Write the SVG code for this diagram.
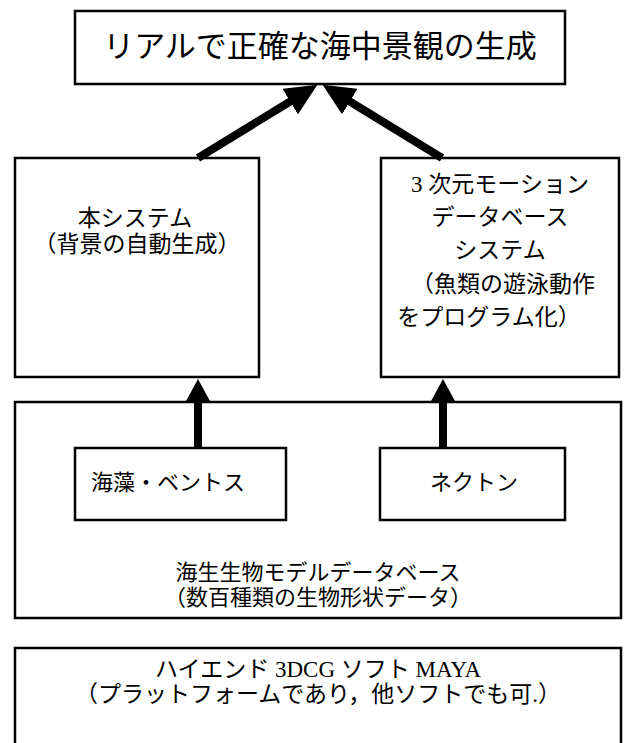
<svg xmlns="http://www.w3.org/2000/svg" width="634" height="743" viewBox="0 0 634 743">
<style>
.box{fill:#fff;stroke:#000;stroke-width:2.5}
.t{font-family:"Liberation Serif","Noto Sans CJK JP",serif;fill:#000;text-anchor:middle;dominant-baseline:central}
.m{font-size:22px}
.l{font-size:23px}
.conn{stroke:#000;fill:none}
</style>
<defs>
<marker id="hd" markerUnits="userSpaceOnUse" markerWidth="32" markerHeight="30" viewBox="0 0 32 30" refX="1" refY="15" orient="auto">
<path d="M0,0 L32,15 L0,30 z" fill="#000"/>
</marker>
<marker id="hv" markerUnits="userSpaceOnUse" markerWidth="24" markerHeight="26" viewBox="0 0 24 26" refX="1" refY="13" orient="auto">
<path d="M0,0 L24,13 L0,26 z" fill="#000"/>
</marker>
</defs>
<rect width="634" height="743" fill="#fff"/>
<g id="top">
<rect class="box" x="75" y="11" width="490" height="73"/>
<text class="t" x="320" y="46" font-size="31">リアルで正確な海中景観の生成</text>
</g>
<g id="system">
<rect class="box" x="15" y="158" width="244" height="219"/>
<text class="t l" x="135" y="218">本システム</text>
<text class="t l" x="137" y="244">（背景の自動生成）</text>
</g>
<g id="motion">
<rect class="box" x="381" y="158" width="238" height="219"/>
<text class="t l" x="500" y="184">3 次元モーション</text>
<text class="t l" x="500" y="217">データベース</text>
<text class="t l" x="500" y="250">システム</text>
<text class="t l" x="503" y="284">（魚類の遊泳動作</text>
<text class="t l" x="489" y="317">をプログラム化）</text>
</g>
<g id="marine-db">
<rect class="box" x="15" y="402" width="606" height="216"/>
<text class="t m" x="318" y="572">海生生物モデルデータベース</text>
<text class="t m" x="318" y="597">（数百種類の生物形状データ）</text>
</g>
<g id="benthos">
<rect class="box" x="75" y="448" width="211" height="72"/>
<text class="t m" x="168" y="482">海藻・ベントス</text>
</g>
<g id="nekton">
<rect class="box" x="380" y="448" width="185" height="72"/>
<text class="t m" x="474" y="482">ネクトン</text>
</g>
<g id="maya">
<rect class="box" x="15" y="648" width="606" height="100"/>
<text class="t l" x="318" y="669">ハイエンド 3DCG ソフト MAYA</text>
<text class="t l" x="318" y="694">（プラットフォームであり，他ソフトでも可.）</text>
</g>
<g id="connectors" class="conn">
<path d="M198,158 L291,101" stroke-width="8" marker-end="url(#hd)"/>
<path d="M442,158 L349,101" stroke-width="8" marker-end="url(#hd)"/>
<path d="M198,448 L198,402" stroke-width="8" marker-end="url(#hv)"/>
<path d="M443,448 L443,402" stroke-width="8" marker-end="url(#hv)"/>
</g>
</svg>
